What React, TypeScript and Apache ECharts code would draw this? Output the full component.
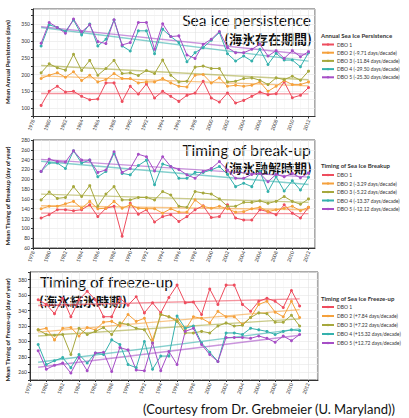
import React, { useEffect, useRef } from 'react';
import * as echarts from 'echarts';

// ---------- DATA ----------
const YEARS = [1979, 1980, 1981, 1982, 1983, 1984, 1985, 1986, 1987, 1988, 1989, 1990, 1991, 1992, 1993, 1994, 1995, 1996, 1997, 1998, 1999, 2000, 2001, 2002, 2003, 2004, 2005, 2006, 2007, 2008, 2009, 2010, 2011, 2012];
const YEARS_FREEZE = [1979, 1980, 1981, 1982, 1983, 1984, 1985, 1986, 1987, 1988, 1989, 1990, 1991, 1992, 1993, 1994, 1995, 1996, 1997, 1998, 1999, 2000, 2001, 2002, 2003, 2004, 2005, 2006, 2007, 2008, 2009, 2010, 2011];

const persistDBO1 = [108, 150, 165, 148, 150, 135, 125, 127, 175, 175, 120, 165, 142, 172, 130, 150, 135, 120, 138, 145, 180, 130, 118, 145, 115, 123, 135, 148, 140, 143, 178, 131, 138, 161];
const persistDBO2 = [188, 198, 205, 192, 208, 182, 198, 178, 185, 203, 188, 188, 175, 178, 178, 188, 175, 165, 163, 198, 200, 175, 190, 165, 168, 165, 168, 178, 150, 165, 182, 170, 170, 178];
const persistDBO3 = [205, 232, 220, 213, 260, 212, 242, 198, 218, 242, 203, 205, 197, 212, 203, 243, 198, 178, 180, 222, 225, 218, 218, 178, 180, 188, 190, 183, 170, 190, 185, 195, 183, 210];
const persistDBO4 = [285, 348, 340, 328, 362, 318, 350, 285, 305, 362, 285, 270, 330, 330, 262, 335, 313, 295, 238, 265, 280, 302, 325, 262, 240, 255, 240, 275, 230, 263, 243, 243, 223, 265];
const persistDBO5 = [293, 355, 340, 323, 365, 327, 348, 298, 292, 363, 288, 295, 355, 355, 275, 351, 313, 315, 258, 248, 290, 305, 328, 280, 265, 265, 275, 290, 255, 271, 248, 271, 253, 268];

const breakupDBO1 = [121, 128, 138, 138, 136, 138, 148, 124, 141, 145, 84, 151, 129, 138, 113, 124, 128, 114, 124, 138, 146, 122, 124, 148, 121, 117, 117, 138, 134, 128, 148, 131, 121, 143];
const breakupDBO2 = [140, 145, 145, 150, 155, 141, 155, 140, 141, 155, 141, 148, 141, 140, 140, 131, 140, 133, 133, 158, 145, 141, 145, 140, 133, 134, 140, 143, 134, 138, 141, 145, 136, 143];
const breakupDBO3 = [158, 174, 161, 163, 185, 165, 187, 145, 170, 185, 158, 158, 163, 163, 158, 175, 168, 145, 143, 175, 172, 170, 160, 145, 145, 153, 153, 156, 151, 155, 165, 155, 149, 160];
const breakupDBO4 = [216, 233, 233, 222, 258, 233, 239, 205, 216, 253, 212, 209, 228, 239, 189, 231, 226, 202, 202, 214, 214, 219, 226, 210, 185, 192, 185, 216, 175, 205, 176, 197, 178, 204];
const breakupDBO5 = [216, 241, 236, 235, 258, 239, 239, 214, 219, 256, 214, 222, 251, 246, 217, 246, 226, 220, 209, 202, 216, 222, 236, 219, 202, 202, 210, 212, 195, 210, 205, 212, 203, 213];

const freezeDBO1 = [354, 348, 336, 356, 332, 354, 365, 354, 332, 332, 356, 347, 358, 337, 350, 337, 357, 373, 350, 351, 335, 368, 348, 373, 373, 348, 339, 352, 356, 352, 344, 366, 346];
const freezeDBO2 = [315, 317, 302, 317, 318, 307, 318, 315, 325, 326, 320, 335, 326, 330, 302, 335, 332, 328, 315, 332, 330, 324, 339, 332, 332, 322, 331, 348, 352, 338, 332, 352, 331];
const freezeDBO3 = [315, 309, 308, 309, 283, 317, 309, 313, 318, 309, 324, 322, 317, 315, 298, 335, 332, 326, 311, 311, 313, 311, 320, 324, 320, 321, 331, 337, 336, 325, 325, 334, 320];
const freezeDBO4 = [296, 270, 275, 279, 266, 283, 272, 285, 283, 302, 296, 270, 266, 300, 264, 281, 281, 333, 317, 320, 298, 286, 274, 311, 311, 309, 317, 315, 313, 309, 313, 315, 314];
const freezeDBO5 = [288, 264, 269, 272, 259, 279, 262, 285, 286, 261, 292, 289, 263, 262, 298, 262, 287, 270, 313, 317, 296, 283, 274, 305, 305, 305, 304, 307, 304, 299, 307, 301, 309];

const PERSIST_LABELS = ['DBO 1', 'DBO 2 (-9.71 days/decade)', 'DBO 3 (-11.84 days/decade)', 'DBO 4 (-29.50 days/decade)', 'DBO 5 (-25.30 days/decade)'];
const BREAKUP_LABELS = ['DBO 1', 'DBO 2 (-3.29 days/decade)', 'DBO 3 (-5.22 days/decade)', 'DBO 4 (-13.37 days/decade)', 'DBO 5 (-12.12 days/decade)'];
const FREEZE_LABELS = ['DBO 1', 'DBO 2 (+7.84 days/decade)', 'DBO 3 (+7.22 days/decade)', 'DBO 4 (+15.32 days/decade)', 'DBO 5 (+12.72 days/decade)'];

const COLORS = ['#ee4d5e', '#f5a13c', '#a6a83d', '#35b1ad', '#a64ec6'];

// ---------- LAYOUT ----------
const PANELS = [
  {
    key: 'p1', years: YEARS, data: [persistDBO1, persistDBO2, persistDBO3, persistDBO4, persistDBO5], labels: PERSIST_LABELS,
    grid: { left: 33, top: 9, width: 282, height: 107.5 }, xMax: 2012.8, yMin: 75, yMax: 395, yInt: 25, labelStep: 50,
    yName: 'Mean Annual Persistence (days)', yNameY: 62, legendTitle: 'Annual Sea Ice Persistence', legendTitleTop: 32, legendTop: 42, legendGap: 3.2,
  },
  {
    key: 'p2', years: YEARS, data: [breakupDBO1, breakupDBO2, breakupDBO3, breakupDBO4, breakupDBO5], labels: BREAKUP_LABELS,
    grid: { left: 33, top: 140, width: 282, height: 108 }, xMax: 2012.8, yMin: 60, yMax: 280, yInt: 20, labelStep: 20,
    yName: 'Mean Timing of Breakup (day of year)', yNameY: 196, legendTitle: 'Timing of Sea Ice Breakup', legendTitleTop: 162, legendTop: 172.5, legendGap: 3.5,
  },
  {
    key: 'p3', years: YEARS_FREEZE, data: [freezeDBO1, freezeDBO2, freezeDBO3, freezeDBO4, freezeDBO5], labels: FREEZE_LABELS,
    grid: { left: 30, top: 272, width: 288, height: 108 }, xMax: 2013.25, yMin: 250, yMax: 390, yInt: 10, labelStep: 20,
    yName: 'Mean Timing of Freeze-up (day of year)', yNameY: 330, legendTitle: 'Timing of Sea Ice Freeze-up', legendTitleTop: 295, legendTop: 304.5, legendGap: 4,
  },
];

function trend(xs: number[], ys: number[]) {
  const n = xs.length;
  const mx = xs.reduce((a, b) => a + b, 0) / n;
  const my = ys.reduce((a, b) => a + b, 0) / n;
  let sxy = 0, sxx = 0;
  for (let i = 0; i < n; i++) { sxy += (xs[i] - mx) * (ys[i] - my); sxx += (xs[i] - mx) ** 2; }
  const b = sxy / sxx;
  const a = my - b * mx;
  return [[xs[0], a + b * xs[0]], [xs[n - 1], a + b * xs[n - 1]]];
}

function buildOption() {
  const series: any[] = [];
  const legends: any[] = [];
  const graphics: any[] = [];

  PANELS.forEach((p, pi) => {
    const names: string[] = [];
    p.data.forEach((vals, si) => {
      const name = `${p.key}|${p.labels[si]}`;
      names.push(name);
      series.push({
        name, type: 'line', xAxisIndex: pi, yAxisIndex: pi,
        data: p.years.map((y, i) => [y, vals[i]]),
        symbol: 'circle', symbolSize: 3,
        lineStyle: { color: COLORS[si], width: 1 },
        itemStyle: { color: COLORS[si] },
        z: 3,
      });
      series.push({
        name: `${p.key}-trend-${si}`, type: 'line', xAxisIndex: pi, yAxisIndex: pi,
        data: trend(p.years, vals), symbol: 'none', silent: true,
        lineStyle: { color: COLORS[si], width: 1.4, opacity: 0.6 }, z: 2,
      });
    });
    legends.push({
      data: names, orient: 'vertical', left: 321, top: p.legendTop, padding: 0,
      itemWidth: 12, itemHeight: 3, itemGap: p.legendGap, selectedMode: false,
      formatter: (n: string) => n.split('|')[1],
      textStyle: { fontSize: 5, color: '#333', fontFamily: 'Lato', padding: [0, 0, 0, -2] },
    });
    graphics.push({
      type: 'text', left: 321, top: p.legendTitleTop,
      style: { text: p.legendTitle, fontSize: 6, fontWeight: 'bold', fill: '#333', fontFamily: 'Lato' },
    });
    graphics.push({
      type: 'text', x: 7, y: p.yNameY, rotation: Math.PI / 2,
      style: { text: p.yName, fontSize: 6, fontWeight: 'bold', fill: '#222', fontFamily: 'Lato', align: 'center', verticalAlign: 'middle' },
    });
  });

  // titles
  graphics.push(
    { type: 'text', right: 98, top: 12, style: { text: 'Sea ice persistence', fontSize: 15.5, fill: '#111', fontFamily: 'Lato' } },
    { type: 'text', right: 97, top: 31.5, style: { text: '(海氷存在期間)', fontSize: 13, fontWeight: 'bold', fill: '#111', fontFamily: 'Noto Sans CJK JP' } },
    { type: 'text', right: 98, top: 142, style: { text: 'Timing of break-up', fontSize: 15.5, fill: '#111', fontFamily: 'Lato' } },
    { type: 'text', right: 97, top: 160.5, style: { text: '(海氷融解時期)', fontSize: 13, fontWeight: 'bold', fill: '#111', fontFamily: 'Noto Sans CJK JP' } },
    { type: 'text', left: 40, top: 274, style: { text: 'Timing of freeze-up', fontSize: 15.5, fill: '#111', fontFamily: 'Lato' } },
    { type: 'text', left: 39, top: 293.5, style: { text: '(海氷結氷時期)', fontSize: 13, fontWeight: 'bold', fill: '#111', fontFamily: 'Noto Sans CJK JP' } },
    { type: 'text', left: 143, top: 402, style: { text: '(Courtesy from Dr. Grebmeier (U. Maryland))', fontSize: 13, fill: '#111', fontFamily: 'Lato' } },
  );

  return {
    animation: false,
    backgroundColor: '#fff',
    textStyle: { fontFamily: 'Lato' },
    grid: PANELS.map((p) => ({ ...p.grid, show: true, borderColor: '#555', borderWidth: 1, backgroundColor: '#fff', containLabel: false })),
    xAxis: PANELS.map((p, pi) => ({
      type: 'value', gridIndex: pi, min: 1978, max: p.xMax, interval: 2,
      axisLine: { show: true, onZero: false, lineStyle: { color: '#333', width: 1 } },
      axisTick: { show: true, length: 2, lineStyle: { color: '#333' } },
      axisLabel: {
        rotate: 70, fontSize: 5, color: '#333', margin: 3, showMaxLabel: false,
        formatter: (v: number) => (Number.isInteger(v) ? String(v) : ''),
      },
      splitLine: { show: true, lineStyle: { color: '#e3e3e3', width: 0.6 } },
      minorSplitLine: { show: true, lineStyle: { color: '#f1f1f1', width: 0.5 } },
      minorTick: { show: false, splitNumber: 2 },
    })),
    yAxis: PANELS.map((p, pi) => ({
      type: 'value', gridIndex: pi, min: p.yMin, max: p.yMax, interval: p.yInt,
      axisLine: { show: true, onZero: false, lineStyle: { color: '#333', width: 1 } },
      axisTick: { show: true, length: 2, lineStyle: { color: '#333' } },
      axisLabel: {
        fontSize: 5, color: '#333', margin: 3,
        formatter: (v: number) => (v % p.labelStep === 0 ? String(v) : ''),
      },
      splitLine: { show: true, lineStyle: { color: '#e6e6e6', width: 0.6 } },
    })),
    legend: legends,
    series,
    graphic: graphics,
  };
}

export default function App() {
  const ref = useRef<HTMLDivElement>(null);
  useEffect(() => {
    if (!ref.current) return;
    const chart = echarts.init(ref.current, undefined, { renderer: 'svg' });
    chart.setOption(buildOption() as any);
    return () => chart.dispose();
  }, []);
  return <div ref={ref} style={{ position: 'fixed', left: 0, top: 0, width: 409, height: 418, background: '#fff' }} />;
}
